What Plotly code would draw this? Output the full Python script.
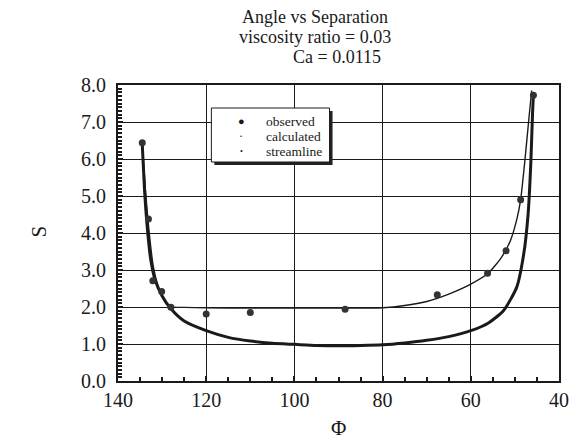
import plotly.graph_objects as go

# Observed separation S at contact angle phi
obs_phi = [134.5, 133.1, 132.1, 130.1, 128.0, 120.0, 110.0, 88.5, 67.6, 56.2, 52.0, 48.7, 45.8]
obs_s = [6.44, 4.38, 2.71, 2.42, 1.99, 1.81, 1.85, 1.94, 2.33, 2.91, 3.52, 4.90, 7.72]

# Calculated curve
calc_phi = [134.5, 133.8, 133.0, 132.0, 131.0, 130.0, 129.0, 128.0, 125.0, 120.0, 110.0,
            100.0, 90.0, 80.0, 75.0, 70.0, 65.0, 60.0, 56.0, 53.0, 51.0, 49.5, 48.7,
            47.7, 46.9, 46.2]
calc_s = [6.45, 5.2, 4.1, 3.1, 2.6, 2.3, 2.1, 2.0, 1.99, 1.98, 1.97,
          1.97, 1.97, 1.98, 2.04, 2.15, 2.35, 2.62, 2.92, 3.35, 3.8, 4.4, 4.9,
          6.0, 7.0, 7.85]

# Streamline curve
stream_phi = [134.5, 134.0, 133.4, 132.6, 131.5, 130.0, 128.0, 125.0, 120.0, 115.0, 110.0,
              105.0, 100.0, 95.0, 90.0, 85.0, 80.0, 75.0, 70.0, 65.0, 60.0, 56.0,
              52.6, 49.6, 48.0, 47.0, 46.4, 46.0, 45.8]
stream_s = [6.4, 5.2, 4.2, 3.3, 2.7, 2.3, 1.95, 1.62, 1.36, 1.18, 1.08,
            1.02, 0.99, 0.96, 0.95, 0.96, 0.98, 1.03, 1.1, 1.2, 1.36, 1.57,
            1.9, 2.53, 3.43, 4.52, 5.87, 7.23, 7.75]

title_lines = ["Angle vs Separation", "viscosity ratio = 0.03", "Ca = 0.0115"]
legend_names = ["observed", "calculated", "streamline"]

SERIF = "Liberation Serif, Times New Roman, serif"
INK = "#1a1a1a"

# plot-area geometry in pixels, used to place paper-referenced decorations
W, H = 581, 443
L, R, T, B = 118, 562, 85, 381


def px(x):
    return (x - L) / (R - L)


def py(y):
    return (B - y) / (B - T)


fig = go.Figure()

fig.add_trace(go.Scatter(
    x=stream_phi, y=stream_s, mode="lines", line=dict(color=INK, width=3, shape="spline", smoothing=0.6),
    name=legend_names[2], showlegend=False, hoverinfo="skip"))
fig.add_trace(go.Scatter(
    x=calc_phi, y=calc_s, mode="lines", line=dict(color=INK, width=1.4, shape="spline", smoothing=0.6),
    name=legend_names[1], showlegend=False, hoverinfo="skip"))
fig.add_trace(go.Scatter(
    x=obs_phi, y=obs_s, mode="markers", marker=dict(color="#333333", size=7),
    name=legend_names[0], showlegend=False))

# legend box with drop shadow
lx0, lx1, ly0, ly1 = 212, 331, 108, 162
fig.add_shape(type="rect", xref="paper", yref="paper",
              x0=px(lx0 + 3), x1=px(lx1 + 3), y0=py(ly1 + 3), y1=py(ly0 + 3),
              fillcolor="#222222", line=dict(width=0), layer="above")
fig.add_shape(type="rect", xref="paper", yref="paper",
              x0=px(lx0), x1=px(lx1), y0=py(ly1), y1=py(ly0),
              fillcolor="white", line=dict(color=INK, width=1), layer="above")

legend_y = [121, 136, 151]
legend_sym = ["●", "·", "•"]
legend_sym_size = [11, 12, 8]
annotations = []
for name, yy, sym, ss in zip(legend_names, legend_y, legend_sym, legend_sym_size):
    annotations.append(dict(x=px(242), y=py(yy), xref="paper", yref="paper", text=sym,
                            showarrow=False, xanchor="center", yanchor="middle",
                            font=dict(family=SERIF, size=ss, color=INK)))
    annotations.append(dict(x=px(265), y=py(yy), xref="paper", yref="paper", text=name,
                            showarrow=False, xanchor="left", yanchor="middle",
                            font=dict(family=SERIF, size=13.5, color=INK)))

for text, yy, xx in zip(title_lines, [17.5, 37.5, 57.5], [316, 316, 338]):
    annotations.append(dict(x=px(xx), y=py(yy), xref="paper", yref="paper", text=text,
                            showarrow=False, xanchor="center", yanchor="middle",
                            font=dict(family=SERIF, size=18, color=INK)))

annotations.append(dict(x=px(38), y=py(232), xref="paper", yref="paper", text="S",
                        textangle=-90, showarrow=False, xanchor="center", yanchor="middle",
                        font=dict(family=SERIF, size=21, color=INK)))
annotations.append(dict(x=px(340), y=py(428), xref="paper", yref="paper", text="Φ",
                        showarrow=False, xanchor="center", yanchor="middle",
                        font=dict(family=SERIF, size=21, color=INK)))

axis_common = dict(
    showline=True, linecolor=INK, linewidth=2, mirror=True,
    showgrid=True, gridcolor=INK, gridwidth=1,
    ticks="inside", ticklen=5, tickcolor=INK, tickwidth=1.5,
    tickfont=dict(family=SERIF, size=20, color=INK),
    zeroline=False,
)

fig.update_layout(
    width=W, height=H,
    margin=dict(l=L, r=W - R, t=T, b=H - B),
    paper_bgcolor="white", plot_bgcolor="white",
    showlegend=False,
    annotations=annotations,
    xaxis=dict(range=[140, 40], tickmode="linear", tick0=40, dtick=20,
               minor=dict(dtick=5, ticks="inside", ticklen=4, tickcolor=INK, showgrid=False),
               **axis_common),
    yaxis=dict(range=[0, 8], tickmode="linear", tick0=0, dtick=1, tickformat=".1f",
               ticklabelstandoff=6,
               minor=dict(dtick=0.1, ticks="inside", ticklen=4, tickcolor=INK, showgrid=False),
               **axis_common),
)

fig.write_html("out.html")
